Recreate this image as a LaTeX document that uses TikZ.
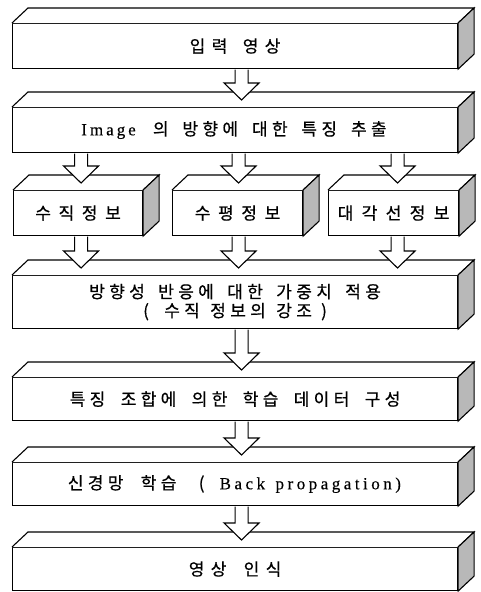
\documentclass[tikz,border=0pt]{standalone}
\usepackage{fontspec}
\setmainfont{Noto Sans CJK KR}[FakeBold=0.6]
\newfontfamily\lat{Liberation Serif}[FakeBold=0.3]
\usetikzlibrary{calc}
\makeatletter
\def\spc@bar{|}
% Korean text at a fixed pitch; | marks a word gap
\newcommand\kor[3]{\@tfor\spc@t:=#3\do{\ifx\spc@t\spc@bar\hspace{#2}\else\makebox[#1]{\spc@t}\fi}}
% Latin text with extra space after each letter; | marks a word gap
\newcommand\latsp[3]{\@tfor\spc@t:=#3\do{\ifx\spc@t\spc@bar\hspace{#2}\else\spc@t\hspace{#1}\fi}}
\makeatother
\tikzset{
  box/.style={draw, line width=1.1pt, fill=white, inner sep=0pt, anchor=north west,
    align=center, font=\fontsize{17}{18}\selectfont},
  face/.style={draw, line width=1.1pt, fill=white, line join=miter},
  side/.style={draw, line width=1.1pt, fill=black!28, line join=miter},
  blockarr/.style={draw, line width=1.1pt, fill=white, line join=miter,
    to path={let \p1=(\tikztostart), \p2=(\tikztotarget) in
      (\x1-6.5pt,\y1-0.55pt) -- (\x1-6.5pt,\y2+24pt) -- (\x1-17.5pt,\y2+24pt)
      -- (\x1,\y2+7pt) -- (\x1+17.5pt,\y2+24pt) -- (\x1+6.5pt,\y2+24pt)
      -- (\x1+6.5pt,\y1-0.55pt)}}
}
\begin{document}
\begin{tikzpicture}[x=1pt,y=1pt]
\useasboundingbox (0,0) rectangle (481,-592);
\node[box, minimum width=445pt, minimum height=45pt] (b1) at (12,-23)
  {\kor{22pt}{9pt}{입력|영상}};
\node[box, minimum width=445pt, minimum height=45pt] (b2) at (12,-107)
  {{\lat\latsp{3pt}{0pt}{Image}}\hspace{12pt}\kor{20pt}{9.5pt}{의|방향에|대한|특징|추출}};
\node[box, minimum width=129pt, minimum height=45pt] (sa) at (13,-190)
  {\kor{23.3pt}{0pt}{수직정보}};
\node[box, minimum width=130pt, minimum height=45pt] (sb) at (172,-190)
  {\kor{23.3pt}{0pt}{수평정보}};
\node[box, minimum width=130pt, minimum height=45pt] (sc) at (328,-190)
  {\kor{24pt}{0pt}{대각선정보}};
\node[box, minimum width=445pt, minimum height=53pt] (b4) at (12,-275)
  {\kor{20pt}{9pt}{방향성|반응에|대한|가중치|적용}\\[1pt]\kor{20pt}{6pt}{(|수직|정보의|강조)}};
\node[box, minimum width=445pt, minimum height=43pt] (b5) at (12,-377)
  {\kor{20pt}{11pt}{특징|조합에|의한|학습|데이터|구성}};
\node[box, minimum width=445pt, minimum height=43pt] (b6) at (12,-462)
  {\kor{20pt}{13pt}{신경망|학습|(}\hspace{8pt}{\lat\fontsize{17}{18}\selectfont\latsp{3.5pt}{7pt}{Back|propagation)}}};
\node[box, minimum width=445pt, minimum height=43pt] (b7) at (12,-547)
  {\kor{22pt}{11pt}{영상|인식}};
\foreach \n in {b1,b2,sa,sb,sc,b4,b5,b6,b7}{
  \draw[face] (\n.north west) -- ++(16,15) -- ($(\n.north east)+(16,15)$) -- (\n.north east);
  \draw[side] (\n.north east) -- ++(16,15) -- ($(\n.south east)+(16,15)$) -- (\n.south east) -- cycle;
}
\draw[blockarr] ($(b1.south)+(6.5,0)$) to (b2.north);
\draw[blockarr] ($(b2.south -| sa.north)+(3,0)$) to (sa.north);
\draw[blockarr] ($(b2.south -| sb.north)+(1,0)$) to (sb.north);
\draw[blockarr] ($(b2.south -| sc.north)+(4,0)$) to (sc.north);
\draw[blockarr] ($(sa.south)+(3,0)$) to (b4.north);
\draw[blockarr] ($(sb.south)+(1,0)$) to (b4.north);
\draw[blockarr] ($(sc.south)+(4,0)$) to (b4.north);
\draw[blockarr] ($(b4.south)+(6.5,0)$) to (b5.north);
\draw[blockarr] ($(b5.south)+(6.5,0)$) to (b6.north);
\draw[blockarr] ($(b6.south)+(6.5,0)$) to (b7.north);
\end{tikzpicture}
\end{document}
